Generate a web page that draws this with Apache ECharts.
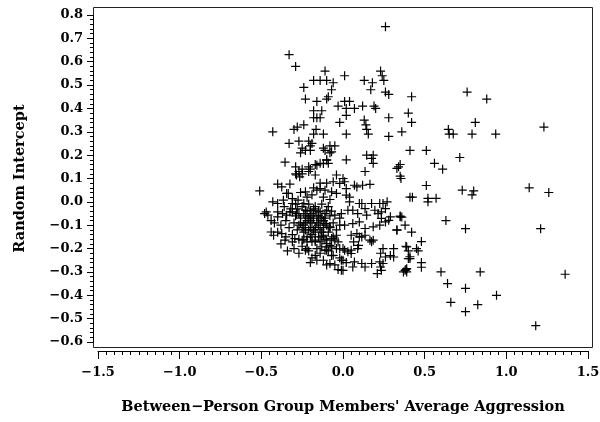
<!DOCTYPE html>
<html>
<head>
<meta charset="utf-8">
<script src="https://cdn.jsdelivr.net/npm/echarts/dist/echarts.min.js"></script>
<style>
  html, body { margin: 0; padding: 0; background: #fff; }
  #chart { width: 600px; height: 422px; }
</style>
</head>
<body>
<div id="chart"></div>
<script>
// Between-person group members' average aggression (x) vs. random intercept (y)

const xTicks = [-1.5, -1.0, -0.5, 0.0, 0.5, 1.0, 1.5];
const yTicks = [-0.6, -0.5, -0.4, -0.3, -0.2, -0.1, 0.0, 0.1, 0.2, 0.3, 0.4, 0.5, 0.6, 0.7, 0.8];

const upperPoints = [
  [0.26,0.75],[-0.33,0.63],[-0.29,0.58],[-0.11,0.56],[0.01,0.54],[-0.18,0.52],[-0.14,0.52],
  [-0.10,0.52],[-0.06,0.51],[0.23,0.56],[0.24,0.54],[0.25,0.52],[0.13,0.52],[0.18,0.51],
  [-0.24,0.49],[-0.23,0.44],[-0.07,0.48],[0.17,0.48],[0.26,0.47],[0.28,0.46],[0.42,0.45],
  [-0.16,0.43],[-0.10,0.44],[-0.09,0.45],[-0.03,0.41],[0.01,0.43],[0.04,0.43],[0.02,0.40],
  [0.07,0.40],[0.12,0.41],[0.19,0.41],[0.20,0.40],[-0.18,0.39],[-0.18,0.36],[-0.13,0.39],
  [-0.16,0.36],[-0.14,0.36],[0.02,0.37],[-0.02,0.34],[0.13,0.35],[0.14,0.33],[0.145,0.31],
  [0.155,0.29],[0.28,0.36],[0.40,0.38],[0.42,0.34],[0.36,0.30],[0.28,0.28],[0.76,0.47],[0.88,0.44]
];

const midUpperPoints = [
  [-0.43,0.30],[-0.30,0.31],[-0.28,0.32],[-0.24,0.33],[-0.18,0.29],[-0.12,0.29],[-0.165,0.31],
  [0.02,0.29],[-0.33,0.25],[-0.27,0.26],[-0.21,0.26],[-0.19,0.25],[-0.20,0.24],[-0.25,0.23],
  [-0.26,0.21],[-0.23,0.22],[-0.20,0.22],[-0.12,0.23],[-0.08,0.24],[-0.05,0.24],[-0.08,0.21],
  [-0.11,0.22],[-0.07,0.214],[-0.12,0.164],[-0.10,0.179],[0.02,0.18],[0.145,0.20],[0.185,0.20],
  [0.175,0.186],[0.185,0.165],[0.34,0.15],[0.35,0.16],[0.33,0.143],[0.41,0.22],[-0.355,0.17],
  [-0.29,0.15],[-0.25,0.14],[-0.21,0.15],[-0.20,0.14],[-0.17,0.16],[-0.14,0.165],[-0.10,0.18],
  [-0.09,0.165],[0.135,0.13],[0.35,0.11],[-0.29,0.12],[-0.27,0.13],[-0.25,0.12],[-0.21,0.13],
  [-0.16,0.157],[-0.285,0.115],[-0.17,0.115],[-0.04,0.115],[0.00,0.10]
];

const rightTailPoints = [
  [0.645,0.31],[0.675,0.29],[0.65,0.29],[0.81,0.34],[0.79,0.29],[0.935,0.29],[1.23,0.32],
  [0.51,0.22],[0.715,0.19],[0.56,0.165],[0.61,0.14],[0.355,0.10],[0.51,0.07],[0.41,0.02],
  [0.425,0.02],[0.52,0.015],[0.57,0.015],[0.52,0.0],[0.73,0.05],[0.80,0.047],[0.79,0.03],
  [1.14,0.06],[1.26,0.04],[0.36,-0.065],[0.63,-0.08],[0.75,-0.115],[1.21,-0.115],[0.38,-0.10],
  [0.42,-0.13],[0.48,-0.17],[0.385,-0.19],[0.40,-0.21],[0.46,-0.21],[0.41,-0.235],[0.48,-0.26],
  [0.48,-0.28],[0.385,-0.29],[0.37,-0.30],[0.60,-0.30],[0.84,-0.30],[1.36,-0.31],[0.64,-0.35],
  [0.75,-0.37],[0.94,-0.40],[0.66,-0.43],[0.825,-0.44],[0.75,-0.47],[1.18,-0.53]
];

const centerBandPoints = [
  [-0.51,0.047],[-0.40,0.076],[-0.375,0.064],[-0.325,0.076],[-0.265,0.107],[-0.14,0.08],[-0.10,0.08],
  [0.01,0.086],[0.07,0.071],[0.12,0.071],[0.165,0.075],[-0.335,0.036],[-0.23,0.043],[-0.16,0.05],
  [-0.07,0.043],[-0.04,0.036],[0.02,0.057],[0.04,0.02],[-0.06,0.086],[-0.02,0.079],[0.085,0.064],
  [-0.14,0.057],[-0.11,0.05],[0.02,0.029],[0.04,0.0],[-0.43,0.0],[-0.40,-0.007],[-0.365,0.007],
  [-0.31,-0.007],[-0.275,0.007],[-0.24,-0.007],[-0.345,0.036],[-0.31,0.014],[0.115,-0.007],
  [0.175,-0.007],[0.245,-0.007],[0.27,0.0],[0.10,-0.007],[0.225,-0.007],[0.135,-0.029],
  [0.195,-0.036],[0.235,-0.043],[0.29,-0.064],[0.35,-0.061],[-0.48,-0.05],[-0.46,-0.057],
  [-0.40,-0.064],[-0.345,-0.057],[-0.31,-0.043],[-0.285,-0.05],[-0.47,-0.043],[-0.40,-0.043],
  [-0.325,-0.043],[-0.23,-0.036],[-0.20,-0.036],[-0.17,-0.036],[-0.14,-0.043],[-0.10,-0.036],
  [-0.05,-0.057],[-0.01,-0.05],[0.03,-0.036],[0.06,-0.036],[0.09,-0.05],[0.145,-0.057],
  [0.215,-0.05],[0.26,-0.029],[0.235,-0.071],[0.28,-0.079],[0.35,-0.064],[0.33,-0.12]
];

const lowerBandPoints = [
  [-0.44,-0.129],[-0.425,-0.143],[-0.375,-0.136],[-0.355,-0.164],[-0.295,-0.157],[-0.25,-0.164],
  [-0.22,-0.171],[-0.20,-0.15],[-0.17,-0.164],[-0.14,-0.171],[-0.10,-0.179],[-0.08,-0.186],
  [-0.05,-0.164],[-0.03,-0.171],[0.0,-0.20],[0.05,-0.207],[0.09,-0.20],[0.10,-0.15],[0.135,-0.143],
  [0.165,-0.164],[0.185,-0.164],[-0.22,-0.20],[-0.17,-0.229],[-0.10,-0.207],[-0.06,-0.229],
  [0.0,-0.25],[0.01,-0.207],[-0.31,-0.171],[-0.23,-0.207],[0.245,-0.20],[0.31,-0.20],[0.26,-0.236],
  [0.31,-0.236],[0.39,-0.193],[0.41,-0.243],[0.45,-0.20],[-0.01,-0.293],[0.06,-0.279],[0.135,-0.279],
  [0.23,-0.279],[0.21,-0.307],[0.245,-0.264],[0.38,-0.293],[0.39,-0.30],[-0.11,-0.093],[-0.08,-0.107],
  [-0.02,-0.10],[0.01,-0.10],[0.06,-0.093],[0.10,-0.086],[0.135,-0.114],[0.185,-0.107],[0.225,-0.10],
  [0.26,-0.086],[0.33,-0.121],[-0.12,-0.143],[-0.10,-0.164],[-0.07,-0.157],[-0.04,-0.143],
  [0.05,-0.143],[0.085,-0.136],[0.115,-0.15],[0.175,-0.171],[0.065,-0.171],[0.095,-0.186],
  [-0.13,-0.193],[-0.11,-0.207],[-0.07,-0.193],[-0.02,-0.20],[0.03,-0.214],[0.05,-0.221],
  [0.23,-0.22],[0.29,-0.23],[-0.08,-0.264],[-0.01,-0.25],[0.0,-0.293],[0.07,-0.257],[0.115,-0.264],
  [0.175,-0.264],[0.225,-0.257],[0.235,-0.293],[0.39,-0.286],[0.40,-0.243]
];

const coreCloudPoints = [
  [-0.42,-0.09],[-0.38,-0.10],[-0.35,-0.08],[-0.33,-0.11],[-0.30,-0.09],[-0.28,-0.12],[-0.26,-0.07],
  [-0.24,-0.10],[-0.22,-0.08],[-0.20,-0.11],[-0.18,-0.07],[-0.16,-0.09],[-0.14,-0.12],[-0.12,-0.08],
  [-0.10,-0.10],[-0.08,-0.06],[-0.06,-0.09],[-0.04,-0.12],[-0.02,-0.07],[-0.36,-0.02],[-0.32,-0.03],
  [-0.29,-0.01],[-0.27,-0.05],[-0.25,-0.02],[-0.23,-0.06],[-0.21,-0.01],[-0.19,-0.05],[-0.17,-0.02],
  [-0.15,-0.06],[-0.13,-0.01],[-0.11,-0.05],[-0.09,-0.02],[-0.07,-0.04],[-0.31,-0.14],[-0.27,-0.16],
  [-0.24,-0.13],[-0.22,-0.15],[-0.19,-0.14],[-0.17,-0.17],[-0.15,-0.15],[-0.13,-0.13],[-0.11,-0.16],
  [-0.09,-0.13],[-0.06,-0.15],[-0.30,-0.20],[-0.27,-0.22],[-0.25,-0.19],[-0.21,-0.21],[-0.19,-0.24],
  [-0.16,-0.20],[-0.14,-0.22],[-0.12,-0.25],[-0.09,-0.21],[-0.07,-0.23],[-0.04,-0.20],[-0.02,-0.24],
  [-0.38,-0.18],[-0.35,-0.15],[-0.34,-0.21],[-0.40,-0.13],[-0.44,-0.08],[-0.37,-0.05],[-0.22,0.02],
  [-0.19,0.03],[-0.12,0.02],[-0.08,0.01],[-0.26,0.04],[-0.18,0.06],[-0.23,-0.09],[-0.19,-0.09],
  [-0.21,-0.12],[-0.17,-0.11],[-0.25,-0.11],[-0.15,-0.04],[-0.13,-0.07],[-0.20,-0.06],[-0.24,-0.05],
  [-0.05,-0.27],[-0.03,-0.29],[-0.10,-0.27],[0.02,-0.26],[-0.20,-0.26],[-0.16,-0.25],
  [-0.28,-0.03],[-0.26,-0.09],[-0.22,-0.04],[-0.20,-0.08],[-0.18,-0.03],[-0.16,-0.06],[-0.14,-0.08],
  [-0.12,-0.11],[-0.18,-0.12],[-0.23,-0.12],[-0.21,-0.07],[-0.15,-0.10],[-0.11,-0.07],[-0.27,-0.10],
  [-0.29,-0.06],[-0.17,-0.13],[-0.13,-0.15],[-0.19,-0.17],[-0.24,-0.16],[-0.08,-0.11]
];

const allPoints = [].concat(upperPoints, midUpperPoints, rightTailPoints,
  centerBandPoints, lowerBandPoints, coreCloudPoints);

const MINUS = '\u2212';
const fmt = v => (v < -1e-9 ? MINUS : '') + Math.abs(v).toFixed(1);
const labelFont = { fontFamily: 'DejaVu Serif', fontWeight: 'bold', fontSize: 13, color: '#000' };

const chart = echarts.init(document.getElementById('chart'), null, { renderer: 'canvas' });
chart.setOption({
  animation: false,
  backgroundColor: '#fff',
  grid: { left: 98, right: 12, top: 15, bottom: 80, outerBoundsMode: 'none', containLabel: false },
  xAxis: {
    type: 'value',
    min: xTicks[0], max: xTicks[xTicks.length - 1], interval: 0.5,
    position: 'bottom', offset: 9,
    name: 'Between\u2212Person Group Members\' Average Aggression',
    nameLocation: 'middle', nameGap: 49,
    nameTextStyle: Object.assign({}, labelFont, { fontSize: 14.5 }),
    axisLine: { show: true, onZero: false, lineStyle: { color: '#000', width: 1 } },
    axisTick: { show: true, length: 8, lineStyle: { color: '#000', width: 1 } },
    minorTick: { show: true, splitNumber: 10, length: 4, lineStyle: { color: '#000', width: 1 } },
    splitLine: { show: false },
    axisLabel: Object.assign({ margin: 15, formatter: fmt, showMinLabel: true, showMaxLabel: true }, labelFont)
  },
  yAxis: {
    type: 'value',
    min: yTicks[0], max: yTicks[yTicks.length - 1], interval: 0.1,
    position: 'left', offset: 5,
    name: 'Random Intercept',
    nameLocation: 'middle', nameGap: 65, nameRotate: 90,
    nameTextStyle: Object.assign({}, labelFont, { fontSize: 14.5 }),
    axisLine: { show: true, onZero: false, lineStyle: { color: '#000', width: 1 } },
    axisTick: { show: true, length: 6, lineStyle: { color: '#000', width: 1 } },
    minorTick: { show: true, splitNumber: 5, length: 3, lineStyle: { color: '#000', width: 1 } },
    splitLine: { show: false },
    axisLabel: Object.assign({ margin: 10, formatter: fmt, showMinLabel: true, showMaxLabel: true }, labelFont)
  },
  graphic: [{
    type: 'rect', silent: true, z: 0,
    shape: { x: 93.5, y: 7.5, width: 499, height: 340 },
    style: { fill: 'none', stroke: '#222', lineWidth: 1 }
  }],
  series: [{
    type: 'scatter',
    data: allPoints,
    symbol: 'path://M5,0L5,10M0,5L10,5',
    symbolSize: 9,
    itemStyle: { color: 'rgba(0,0,0,0)', borderColor: '#000', borderWidth: 1.2, opacity: 1 },
    emphasis: { disabled: true },
    silent: true,
    clip: false
  }]
});
</script>
</body>
</html>
